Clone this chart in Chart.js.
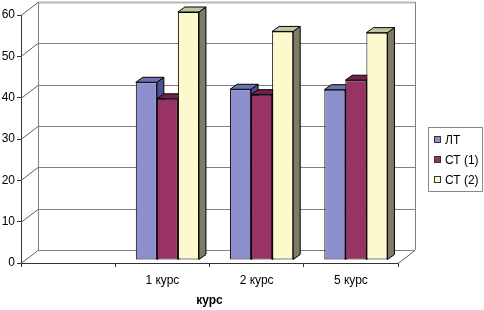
<!DOCTYPE html>
<html>
<head>
<meta charset="utf-8">
<script src="https://cdn.jsdelivr.net/npm/chart.js@4/dist/chart.umd.min.js"></script>
<style>
  html, body { margin: 0; padding: 0; background: #fff; }
  #wrap { width: 484px; height: 310px; }
</style>
</head>
<body>
<div id="wrap"><canvas id="chart" width="484" height="310"></canvas></div>
<script>
const categories = ["", "1 курс", "2 курс", "5 курс"]
const seriesLabels = ["ЛТ", "СТ (1)", "СТ (2)"]
const ltValues = [null, 43, 41.3, 41.2]
const st1Values = [null, 39, 40, 43.5]
const st2Values = [null, 60, 55.3, 55]
const frontColors = ["#8c8fcb", "#993366", "#fcf9cc"]
const sideColors = ["#4d5091", "#5a1d3c", "#7c7c64"]
const topColors = ["#6f72b0", "#6e2449", "#c4c4a0"]

// 3D look: wall depth and bar depth, in px
const wallDx = 17, wallDy = -13
const barShiftX = 5, barShiftY = -3
const barDx = 7, barDy = -5

const threeD = {
  id: "threeD",
  beforeDatasetsDraw(chart) {
    const { ctx, chartArea, scales } = chart
    const y = scales.y
    const { left, right, top, bottom } = chartArea

    ctx.save()
    ctx.lineWidth = 1
    // back wall gridlines and left wall diagonals
    y.ticks.forEach(t => {
      const py = Math.round(y.getPixelForValue(t.value)) + 0.5
      ctx.strokeStyle = t.value === 60 ? "#b8b8b8" : "#808080"
      ctx.lineWidth = t.value === 60 ? 2 : 1
      ctx.beginPath()
      ctx.moveTo(left + wallDx, py + wallDy)
      ctx.lineTo(right + wallDx, py + wallDy)
      ctx.stroke()
      ctx.lineWidth = 1
      ctx.strokeStyle = "#606060"
      ctx.beginPath()
      ctx.moveTo(left, py)
      ctx.lineTo(left + wallDx, py + wallDy)
      ctx.stroke()
    })
    ctx.strokeStyle = "#808080"
    ctx.beginPath()
    ctx.moveTo(left + wallDx + 0.5, top + wallDy)
    ctx.lineTo(left + wallDx + 0.5, bottom + wallDy)
    ctx.moveTo(right + wallDx + 0.5, top + wallDy)
    ctx.lineTo(right + wallDx + 0.5, bottom + wallDy)
    ctx.stroke()
    ctx.strokeStyle = "#606060"
    ctx.beginPath()
    ctx.moveTo(right, bottom + 0.5)
    ctx.lineTo(right + wallDx, bottom + wallDy + 0.5)
    ctx.stroke()
    ctx.restore()

    // bars are shifted into the depth of the box
    ctx.save()
    ctx.translate(barShiftX, barShiftY)
    chart.data.datasets.forEach((ds, di) => {
      const meta = chart.getDatasetMeta(di)
      meta.data.forEach((bar, i) => {
        if (ds.data[i] === null) return
        const { x, y: by, base, width } = bar.getProps(["x", "y", "base", "width"], true)
        const l = x - width / 2, r = x + width / 2
        ctx.strokeStyle = "#000"
        ctx.lineWidth = 1
        ctx.fillStyle = sideColors[di]
        ctx.beginPath()
        ctx.moveTo(r, by)
        ctx.lineTo(r + barDx, by + barDy)
        ctx.lineTo(r + barDx, base + barDy)
        ctx.lineTo(r, base)
        ctx.closePath()
        ctx.fill()
        ctx.stroke()
        ctx.fillStyle = topColors[di]
        ctx.beginPath()
        ctx.moveTo(l, by)
        ctx.lineTo(l + barDx, by + barDy)
        ctx.lineTo(r + barDx, by + barDy)
        ctx.lineTo(r, by)
        ctx.closePath()
        ctx.fill()
        ctx.stroke()
      })
    })
  },
  afterDatasetsDraw(chart) {
    chart.ctx.restore()
  },
  afterDraw(chart) {
    const ctx = chart.ctx
    // legend box
    ctx.save()
    ctx.strokeStyle = "#888"
    ctx.lineWidth = 1
    ctx.strokeRect(428.5, 127.5, 54, 64)
    ctx.font = "12px 'Liberation Sans', Arial, sans-serif"
    ctx.textBaseline = "middle"
    seriesLabels.forEach((label, i) => {
      const cy = 140 + i * 20
      ctx.fillStyle = frontColors[i]
      ctx.fillRect(434, cy - 4, 7, 7)
      ctx.strokeStyle = "#333"
      ctx.strokeRect(434.5, cy - 3.5, 6, 6)
      ctx.fillStyle = "#000"
      ctx.fillText(label, 445, cy + 1)
    })
    ctx.restore()
  }
}

const values = [ltValues, st1Values, st2Values]

new Chart(document.getElementById("chart"), {
  type: "bar",
  data: {
    labels: categories,
    datasets: values.map((data, i) => ({
      label: seriesLabels[i],
      data: data,
      backgroundColor: frontColors[i],
      borderColor: "#000",
      borderWidth: 1,
      borderSkipped: false,
      categoryPercentage: 0.67,
      barPercentage: 1
    }))
  },
  options: {
    responsive: false,
    animation: false,
    layout: { padding: { top: 15, right: 86, bottom: 0, left: 0 } },
    plugins: {
      legend: { display: false },
      tooltip: { enabled: false }
    },
    scales: {
      x: {
        afterFit: (s) => { s.height = 47 },
        grid: { offset: true, drawOnChartArea: false, drawTicks: true, tickLength: 4, color: "#333" },
        border: { display: true, color: "#333" },
        ticks: { color: "#000", padding: 6, font: { family: "'Liberation Sans', Arial", size: 12 } },
        title: {
          display: true,
          text: "курс",
          color: "#000",
          padding: { top: 2, bottom: 2 },
          font: { family: "'Liberation Sans', Arial", size: 12, weight: "bold" }
        }
      },
      y: {
        min: 0,
        max: 60,
        afterFit: (s) => { s.width = 21 },
        grid: { drawOnChartArea: false, drawTicks: true, tickLength: 4, color: "#333" },
        border: { display: true, color: "#333" },
        ticks: { stepSize: 10, color: "#000", padding: 2, font: { family: "'Liberation Sans', Arial", size: 12 } }
      }
    }
  },
  plugins: [threeD]
})
</script>
</body>
</html>
